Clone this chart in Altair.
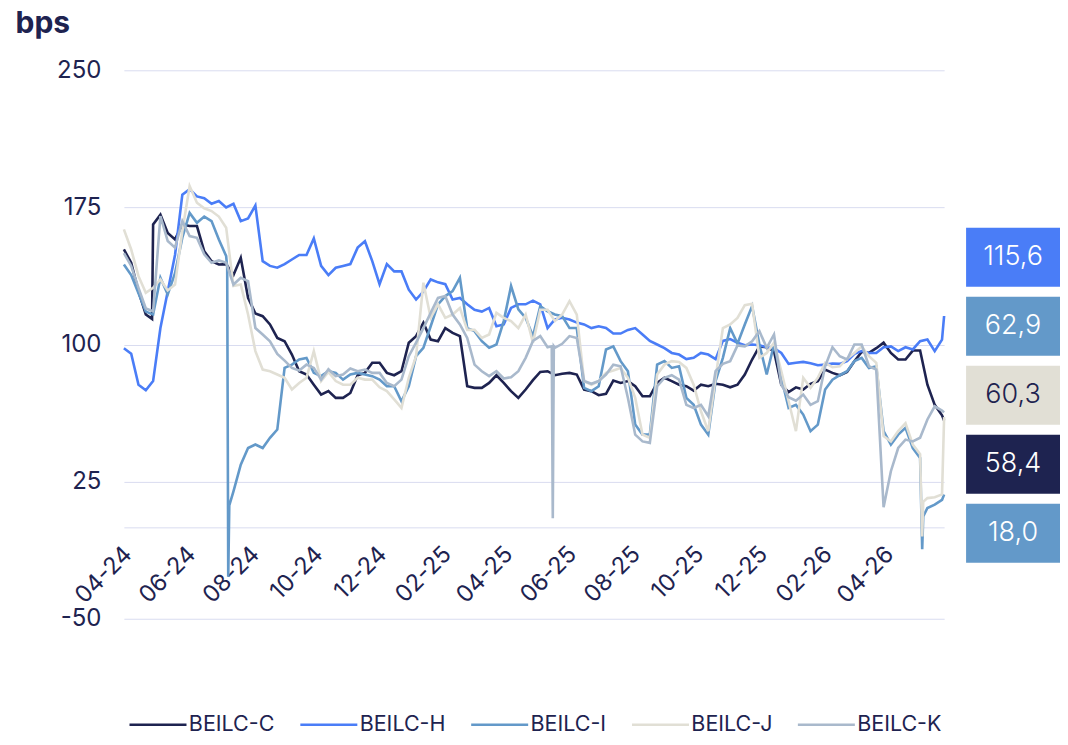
import altair as alt
import pandas as pd

NAVY = "#1E2350"
GRID = "#D9DCF0"

series_names = ["BEILC-C", "BEILC-H", "BEILC-I", "BEILC-J", "BEILC-K"]
series_colors = ["#1E2350", "#4A7DF7", "#6399C9", "#E1DFD5", "#A9B9CC"]

# weekly observation dates (x categories)
week_dates = pd.date_range("2024-04-01", periods=113, freq="7D").strftime("%Y-%m-%d").tolist()

c_vals = [152, 144.7, 129, 116.4, 165.7, 171, 161, 157.5, 165.7, 164.8, 164.8, 151, 145.6, 143.8, 144,
          138, 147.4, 125.5, 117, 115.5, 111, 103.6, 101.8, 94.5, 85.4, 83.6, 78, 72.6, 74.5,
          70.8, 70.8, 73.5, 83.2, 84.5, 90, 90, 84.5, 83.2, 85.4, 101, 104.6, 111.9, 102.7, 101.8,
          109, 106.4, 104.6, 77.2, 76.3, 76.3, 79, 83.2, 79, 74.5, 70.8, 75.4, 80.5,
          85, 85.4, 83.2, 84, 84.5, 83.6, 75.4, 74.5, 72.3, 73, 80.3, 79, 80, 77.2, 71.7, 71.7,
          79, 81.8, 80, 78, 77.2, 74.8, 78, 77.2, 78.5, 78, 76.6, 78,
          83.6, 91.8, 99, 98.5, 96.4, 78, 74, 76.6, 75.4, 78.5, 80, 86.3, 84.5, 83.2, 85, 90.9,
          96, 95.4, 98, 101, 95.4, 91.8, 91.8, 96.7, 96.7, 78, 67, 61.3]

h_vals = [98, 95, 78, 75, 80, 109, 129, 149, 182, 185, 181, 180, 177, 178.5, 175, 177, 167.5, 169,
          176, 145.6, 143, 142, 144, 146.5, 149, 149, 158, 143, 138,
          142, 143, 144, 153, 156.5, 145.6, 133, 144, 140, 140, 130, 124.6, 129, 135.6, 134, 133,
          124.6, 125.5, 122, 119, 118, 120, 110, 111, 120, 122, 122, 124,
          122, 109, 113.7, 114.6, 113.7, 112, 111, 109, 110, 109, 106, 106, 108, 109, 105.5, 102,
          100, 98, 95.4, 94.5, 92, 92.7, 95.4, 94.5, 92, 102, 103, 101,
          99.6, 100, 99.6, 98.5, 98, 95.4, 89.4, 90, 90.5, 89.8, 88.7, 89, 89.6, 89.4, 90.9, 94.9,
          96.4, 95.4, 95.4, 98.5, 99, 96.4, 98.5, 97.3, 101.8, 102.7, 96.4, 102.7]

i_vals = [143.8, 138, 128, 118, 116.4, 136.5, 127.4, 139, 158.4, 172, 166.6, 170, 167.5, 157.5,
          148.4, 19.7, 34.3, 43.4, 45.3, 43.4, 49, 53.5, 87.2, 89, 91.8, 92.7, 84.5, 82.7, 85.4,
          84.5, 80.8, 83.6, 84.5, 83.6, 82.7, 80.8, 77.2, 77.2, 69, 77.2, 93.6, 98.2, 110, 122,
          126.5, 129.2, 136.5, 109, 107.3, 101.8, 98.2, 100, 112.8, 132, 119.2, 114.6, 104.5,
          121, 118.2, 116.4, 115.5, 109, 109, 76.3, 74.5, 77.2, 97.3, 99, 90.9, 85.4, 56.2, 50.7,
          50.7, 89, 90.9, 87.2, 88.1, 70.8, 67, 56.2, 50.7, 80, 92.7, 109, 100.5,
          111, 121, 100, 83.6, 100, 81.8, 65.3, 67, 61.7, 52.6, 56.2, 75.4, 80.8, 83.2, 85.4, 90.9,
          92.7, 87.2, 88.1, 52.6, 45.3, 50.7, 54.4, 43.4, 38, 10.6, 12.4, 15]

j_vals = [163, 152, 137.4, 128.3, 131, 135.6, 129.6, 132.8, 162, 186.7, 177.6, 174.5, 173, 170,
          163.9, 132, 132.8, 116.4, 96.4, 86.3, 85.4, 83.6, 81.8, 75.4, 79, 81.8, 96.4, 80, 85,
          80, 78, 78, 81.8, 80.8, 80.8, 76.6, 74.5, 70, 65.3, 81.8, 93.6, 133.8, 114.6, 122, 114.6,
          116.4, 120, 108, 108, 103.6, 105.5, 117.3, 114.6, 112.8, 109, 116.4, 101,
          119, 119, 112.8, 116.4, 123.7, 116.4, 80, 78, 80, 84.5, 85.8, 87.2, 81.8, 70.8, 50.7, 49,
          83.6, 89, 90.9, 90.5, 87.2, 78, 63.5, 52.6, 81.8, 109, 111, 114.5,
          121.5, 122.3, 92.7, 95.4, 101, 85.4, 69, 52.6, 81.8, 76.3, 81.8, 90, 87.6, 88.1, 92.3,
          95.4, 99, 93.6, 90, 50, 47, 52.6, 57, 45.3, 40, 16, 16.5, 18]

k_vals = [150, 143, 131, 119.7, 118.2, 170.3, 156.6, 153, 167.5, 159.3, 158.4, 149.3, 144.7, 146,
          144.7, 132.8, 136.5, 134.7, 109, 105.5, 101.8, 94.9, 91.2, 87.2, 85.8, 89, 87.2, 80.8, 86.5,
          82.7, 83.6, 86.9, 85.4, 86.3, 84.5, 84.5, 79, 77.2, 80.8, 93.6, 101, 109, 117.3, 125.5,
          126.5, 116.4, 111, 103.6, 89, 85.4, 82.7, 85.4, 81.4, 82.1, 85.4, 92.7, 102,
          104.6, 98.5, 98.2, 100.4, 104.6, 103.6, 80, 78.5, 80, 83.6, 89, 88.1, 70.8, 50.7, 47,
          46.2, 77.2, 81.8, 83.2, 80.8, 67, 65.3, 67, 60.8, 85.4, 89.4, 90.9, 99.5,
          99, 101.8, 107.3, 98.2, 105.5, 78, 71.2, 69.3, 72.6, 67, 69, 88.1, 98.5, 93.6, 91.8, 100,
          100, 88.1, 86.3, 11, 30.7, 43.4, 48, 47, 49, 59, 66.2, 63.9]

# single-day moves between weekly observations
extra_points = [
    ("BEILC-C", "2024-04-28", 114),
    ("BEILC-I", "2024-07-09", 142), ("BEILC-I", "2024-07-10", -27), ("BEILC-I", "2024-07-11", 12),
    ("BEILC-K", "2025-05-16", 99), ("BEILC-K", "2025-05-17", 5), ("BEILC-K", "2025-05-18", 99),
    ("BEILC-I", "2026-05-06", -12), ("BEILC-I", "2026-05-07", 6),
    ("BEILC-J", "2026-05-06", -5), ("BEILC-J", "2026-05-07", 14),
]
last_date = "2026-05-27"
last_vals = [58.4, 115.6, 18.0, 60.3, 62.9]

# right-hand value boxes
box_labels = ["115,6", "62,9", "60,3", "58,4", "18,0"]
box_fill = ["#4A7DF7", "#6399C9", "#E1DFD5", "#1E2350", "#6399C9"]
box_text = ["#FFFFFF", "#FFFFFF", "#1E2350", "#FFFFFF", "#FFFFFF"]

tick_months = [(2024, 4), (2024, 6), (2024, 8), (2024, 10), (2024, 12), (2025, 2), (2025, 4),
               (2025, 6), (2025, 8), (2025, 10), (2025, 12), (2026, 2), (2026, 4)]

rows = []
for name, vals in zip(series_names, [c_vals, h_vals, i_vals, j_vals, k_vals]):
    for d, v in zip(week_dates, vals):
        rows.append({"date": d, "series": name, "value": v})
for name, d, v in extra_points:
    rows.append({"date": d, "series": name, "value": v})
for name, v in zip(series_names, last_vals):
    rows.append({"date": last_date, "series": name, "value": v})
df = pd.DataFrame(rows)

tick_values = [alt.DateTime(year=y, month=m, date=1, utc=True) for y, m in tick_months]

lines = alt.Chart(df).mark_line(strokeWidth=2.6).encode(
    x=alt.X("date:T", scale=alt.Scale(type="utc", nice=False),
            axis=alt.Axis(values=tick_values, labelExpr="utcFormat(datum.value, '%m-%y')",
                          labelAngle=-45, labelAlign="right", labelBaseline="middle",
                          labelPadding=23, labelOffset=4, labelFontSize=23.5, labelColor=NAVY,
                          labelFont="Inter", labelOverlap=False, labelFlush=False, ticks=False,
                          grid=False, domainColor=GRID, domainWidth=1, offset=-91.5, title=None)),
    y=alt.Y("value:Q", scale=alt.Scale(domain=[-50, 250], nice=False, zero=False),
            axis=alt.Axis(values=[250, 175, 100, 25, -50], labelExpr="toString(datum.value)",
                          title="bps", titleAngle=0,
                          titleAlign="left", titleBaseline="alphabetic", titleX=-109, titleY=-38,
                          titleFontSize=30, titleFontWeight="bold", titleColor=NAVY, titleFont="Inter",
                          labelFontSize=24, labelColor=NAVY, labelFont="Inter", labelPadding=23,
                          ticks=False, domain=False, gridColor=GRID, gridWidth=1)),
    color=alt.Color("series:N", scale=alt.Scale(domain=series_names, range=series_colors),
                    legend=alt.Legend(title=None, orient="none", legendX=1.5, legendY=644,
                                      direction="horizontal", symbolType="M-1,0L7.6,0",
                                      symbolSize=176, symbolStrokeWidth=2.5, padding=0,
                                      labelFontSize=21.5, labelFont="Inter", labelColor=NAVY,
                                      columnPadding=20, labelOffset=42)),
).properties(width=821, height=549)

box_df = pd.DataFrame({"label": box_labels, "fill": box_fill, "tc": box_text})
yb = alt.Y("label:N", sort=None, axis=None,
           scale=alt.Scale(range=[157.5, 493], paddingInner=0.145, paddingOuter=0))
rects = alt.Chart(box_df).mark_rect().encode(y=yb, fill=alt.Fill("fill:N", scale=None))
texts = alt.Chart(box_df).mark_text(fontSize=27, font="Inter", fontWeight=300).encode(
    y=yb, text="label:N", color=alt.Color("tc:N", scale=None))
boxes = alt.layer(rects, texts).properties(width=94, height=549)

chart = alt.hconcat(lines, boxes, spacing=16).properties(
    padding={"left": 7, "top": 0, "right": 0, "bottom": -3}
).configure_view(stroke=None)

chart.save("out.html", embed_options={"renderer": "svg", "actions": False})
